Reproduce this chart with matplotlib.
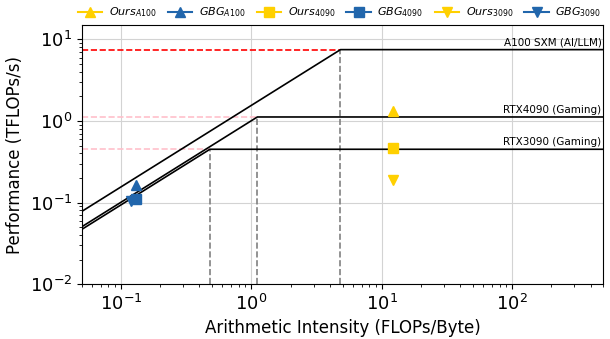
import numpy as np
import matplotlib.pyplot as plt

# GPU roofline parameters (peak TFLOP/s, bandwidth TB/s)
gpus = ["A100 SXM (AI/LLM)", "RTX4090 (Gaming)", "RTX3090 (Gaming)"]
peaks = [7.5, 1.12, 0.45]
bandwidths = [1.555, 1.008, 0.936]
peak_colors = ["red", "pink", "pink"]

# measured points
ours_x = [12.2, 12.2, 12.2]
ours_y = [1.34, 0.47, 0.19]
gbg_x = [0.13, 0.13, 0.12]
gbg_y = [0.166, 0.112, 0.104]
point_labels = ["A100", "4090", "3090"]
point_markers = ["^", "s", "v"]

yellow = "#FFD000"
blue = "#2166AC"

xmin, xmax = 0.05, 500
ymin, ymax = 0.01, 15

fig = plt.figure(figsize=(6.1, 3.39), dpi=100)
ax = fig.add_axes([0.134, 0.162, 0.855, 0.764])

for name, p, bw, pc in zip(gpus, peaks, bandwidths, peak_colors):
    ridge = p / bw
    xs = np.array([xmin, ridge, xmax])
    ys = np.minimum(bw * xs, p)
    ax.plot(xs, ys, color="black", lw=1.2, zorder=3)
    ax.plot([xmin, ridge], [p, p], color=pc, ls="--", lw=1.2, zorder=2)
    ax.plot([ridge, ridge], [ymin, p], color="gray", ls="--", lw=1.2, zorder=2)
    ax.text(xmax * 0.97, p * 1.07, name, ha="right", va="bottom", fontsize=7.5)

handles = []
for i in range(3):
    h1, = ax.plot(ours_x[i], ours_y[i], marker=point_markers[i], color=yellow,
                  ms=7.5, ls="-", label="$Ours_{%s}$" % point_labels[i], zorder=4)
    h2, = ax.plot(gbg_x[i], gbg_y[i], marker=point_markers[i], color=blue,
                  ms=7.5, ls="-", label="$GBG_{%s}$" % point_labels[i], zorder=4)
    handles += [h1, h2]

ax.set_xscale("log")
ax.set_yscale("log")
ax.set_xlim(xmin, xmax)
ax.set_ylim(ymin, ymax)
ax.grid(True, which="major", color="lightgray", lw=0.8)
ax.tick_params(axis="both", which="major", labelsize=13)
ax.set_xlabel("Arithmetic Intensity (FLOPs/Byte)", fontsize=12)
ax.set_ylabel("Performance (TFLOPs/s)", fontsize=12)

fig.legend(handles=handles, loc="center", ncol=6, frameon=False,
           fontsize=8, bbox_to_anchor=(0.557, 0.963), columnspacing=1.0,
           handlelength=2.2, handletextpad=0.6)

fig.savefig("out.png", dpi=100)
